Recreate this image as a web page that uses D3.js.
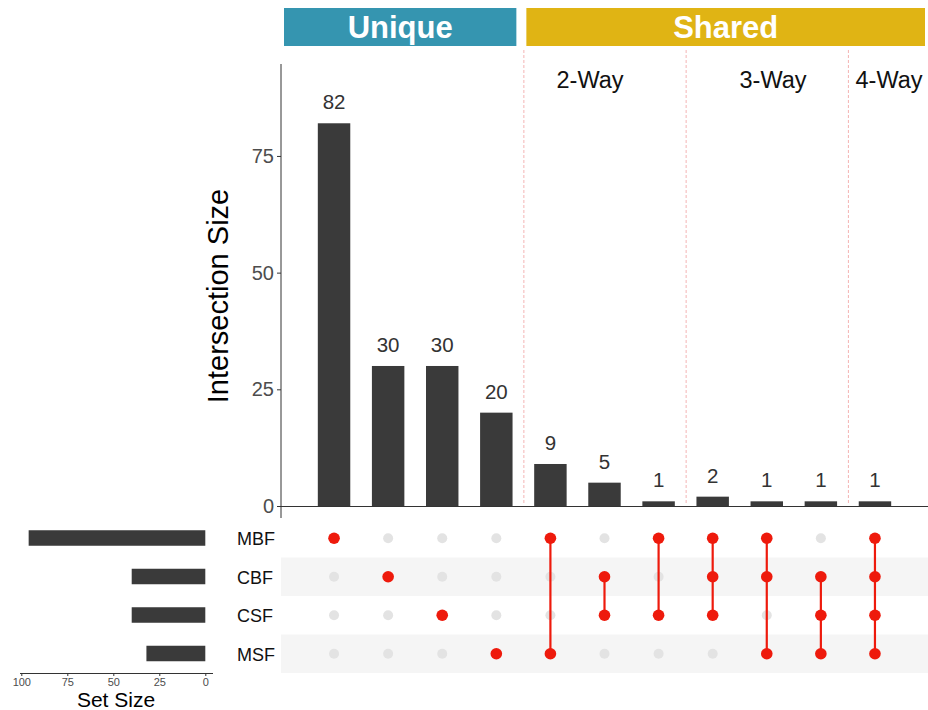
<!DOCTYPE html>
<html>
<head>
<meta charset="utf-8">
<script src="https://cdn.jsdelivr.net/npm/d3@7"></script>
<style>
  html, body { margin: 0; padding: 0; background: #fff; }
  svg { display: block; font-family: "Liberation Sans", Arial, sans-serif; }
</style>
</head>
<body>
<svg id="chart" width="928" height="710"></svg>
<script>
// Sets, in matrix row order
const sets = ["MBF", "CBF", "CSF", "MSF"];
const setSizes = [96, 40, 40, 32];
const setSizeTicks = [100, 75, 50, 25, 0];

// Intersections: membership and size
const intersectionIds = ["i1","i2","i3","i4","i5","i6","i7","i8","i9","i10","i11"];
const intersectionMembers = [
  ["MBF"], ["CBF"], ["CSF"], ["MSF"],
  ["MBF","MSF"], ["CBF","CSF"], ["MBF","CSF"],
  ["MBF","CBF","CSF"], ["MBF","CBF","MSF"], ["CBF","CSF","MSF"],
  ["MBF","CBF","CSF","MSF"]
];
const intersectionSizes = [82, 30, 30, 20, 9, 5, 1, 2, 1, 1, 1];
const sizeTicks = [0, 25, 50, 75];

// Group annotations
const groupBanners = [
  { label: "Unique", from: 0, to: 3, color: "#3595b0" },
  { label: "Shared", from: 4, to: 10, color: "#e0b414" }
];
const degreeLabels = [
  { label: "2-Way", from: 4, to: 6 },
  { label: "3-Way", from: 7, to: 9 },
  { label: "4-Way", from: 10, to: 10 }
];

const svg = d3.select("#chart");

// Scales
const x = d3.scaleBand().domain(intersectionIds).range([307, 902])
  .paddingInner(0.4).paddingOuter(0.2);
const step = x.step();
const cx = i => x(intersectionIds[i]) + x.bandwidth() / 2;
const y = d3.scaleLinear().domain([0, 95]).range([506, 62.6]);
const row = d3.scaleBand().domain(sets).range([519, 673]);
const rowC = s => row(s) + row.bandwidth() / 2;
const sx = d3.scaleLinear().domain([0, 100]).range([205.3, 21.3]);

// Matrix stripes
svg.append("g").selectAll("rect")
  .data(sets.filter((s, i) => i % 2 === 1))
  .join("rect")
  .attr("x", 281).attr("width", 928 - 281)
  .attr("y", d => row(d)).attr("height", row.bandwidth())
  .attr("fill", "#f5f5f5");

// Banners
const bannerG = svg.append("g");
groupBanners.forEach(b => {
  const x0 = cx(b.from) - step / 2 - (b.from === 0 ? 23 : -3);
  const x1 = b.to === intersectionIds.length - 1 ? 925 : cx(b.to) + step / 2 - 7;
  bannerG.append("rect")
    .attr("x", x0).attr("y", 8).attr("width", x1 - x0).attr("height", 38)
    .attr("fill", b.color);
  bannerG.append("text")
    .attr("x", (x0 + x1) / 2).attr("y", 38)
    .attr("text-anchor", "middle")
    .attr("fill", "#fff").attr("font-weight", "bold").attr("font-size", 31)
    .attr("font-family", "'Liberation Sans Narrow', 'Liberation Sans', Arial, sans-serif")
    .text(b.label);
});

// Degree separators (dashed)
const sepG = svg.append("g");
degreeLabels.forEach(d => {
  const xs = cx(d.from) - step / 2 + 0.5;
  sepG.append("line")
    .attr("x1", xs).attr("x2", xs).attr("y1", 50).attr("y2", 505)
    .attr("stroke", "#f4b4b4").attr("stroke-width", 1)
    .attr("stroke-dasharray", "3,2");
});
const degreeX = [590, 773, 889];
degreeLabels.forEach((d, k) => {
  svg.append("text")
    .attr("x", degreeX[k]).attr("y", 88).attr("text-anchor", "middle")
    .attr("font-size", 23.5).attr("fill", "#111")
    .text(d.label);
});

// Intersection bars
svg.append("g").selectAll("rect")
  .data(intersectionSizes)
  .join("rect")
  .attr("x", (d, i) => x(intersectionIds[i]))
  .attr("width", x.bandwidth())
  .attr("y", d => y(d))
  .attr("height", d => y(0) - y(d))
  .attr("fill", "#3a3a3a");

svg.append("g").selectAll("text")
  .data(intersectionSizes)
  .join("text")
  .attr("x", (d, i) => cx(i))
  .attr("y", d => y(d) - 14)
  .attr("text-anchor", "middle")
  .attr("font-size", 20.5).attr("fill", "#333")
  .text(d => d);

// Y axis
const yAxis = svg.append("g").attr("transform", "translate(281,0)")
  .call(d3.axisLeft(y).tickValues(sizeTicks).tickSize(4).tickPadding(3));
yAxis.select(".domain").remove();
yAxis.selectAll("text").attr("font-size", 20).attr("fill", "#4d4d4d")
  .attr("font-family", "'Liberation Sans', Arial, sans-serif");
yAxis.selectAll("line").attr("stroke", "#333");
svg.append("line").attr("x1", 281).attr("x2", 281).attr("y1", 64).attr("y2", 518)
  .attr("stroke", "#333").attr("stroke-width", 1);
svg.append("line").attr("x1", 281).attr("x2", 928).attr("y1", 506.5).attr("y2", 506.5)
  .attr("stroke", "#333").attr("stroke-width", 1);

svg.append("text")
  .attr("transform", "translate(228,296) rotate(-90)")
  .attr("text-anchor", "middle")
  .attr("font-size", 29).attr("fill", "#000")
  .text("Intersection Size");

// Matrix: background dots
const matG = svg.append("g");
intersectionIds.forEach((id, i) => {
  sets.forEach(s => {
    if (!intersectionMembers[i].includes(s)) {
      matG.append("circle").attr("cx", cx(i)).attr("cy", rowC(s))
        .attr("r", 5).attr("fill", "#e3e3e3");
    }
  });
});
// Matrix: connecting lines and active dots
intersectionIds.forEach((id, i) => {
  const ys = intersectionMembers[i].map(rowC);
  if (ys.length > 1) {
    matG.append("line")
      .attr("x1", cx(i)).attr("x2", cx(i))
      .attr("y1", d3.min(ys)).attr("y2", d3.max(ys))
      .attr("stroke", "#ee1a0c").attr("stroke-width", 2.2);
  }
  intersectionMembers[i].forEach(s => {
    matG.append("circle").attr("cx", cx(i)).attr("cy", rowC(s))
      .attr("r", 5.8).attr("fill", "#ee1a0c");
  });
});

// Set labels
svg.append("g").selectAll("text")
  .data(sets)
  .join("text")
  .attr("x", 237).attr("y", d => rowC(d) + 7)
  .attr("font-size", 18).attr("fill", "#111")
  .text(d => d);

// Set size bars
svg.append("g").selectAll("rect")
  .data(setSizes)
  .join("rect")
  .attr("x", d => sx(d))
  .attr("width", d => sx(0) - sx(d))
  .attr("y", (d, i) => rowC(sets[i]) - 8)
  .attr("height", 15.5)
  .attr("fill", "#3a3a3a");

const sAxis = svg.append("g").attr("transform", "translate(0,673)")
  .call(d3.axisBottom(sx).tickValues(setSizeTicks).tickSize(3).tickPadding(2));
sAxis.select(".domain").remove();
sAxis.selectAll("text").attr("font-size", 11).attr("fill", "#4d4d4d")
  .attr("font-family", "'Liberation Sans', Arial, sans-serif");
sAxis.selectAll("line").attr("stroke", "#333");
svg.append("line").attr("x1", 20).attr("x2", 213).attr("y1", 673.5).attr("y2", 673.5)
  .attr("stroke", "#333");

svg.append("text")
  .attr("x", 116).attr("y", 707).attr("text-anchor", "middle")
  .attr("font-size", 21).attr("fill", "#000")
  .text("Set Size");
</script>
</body>
</html>
